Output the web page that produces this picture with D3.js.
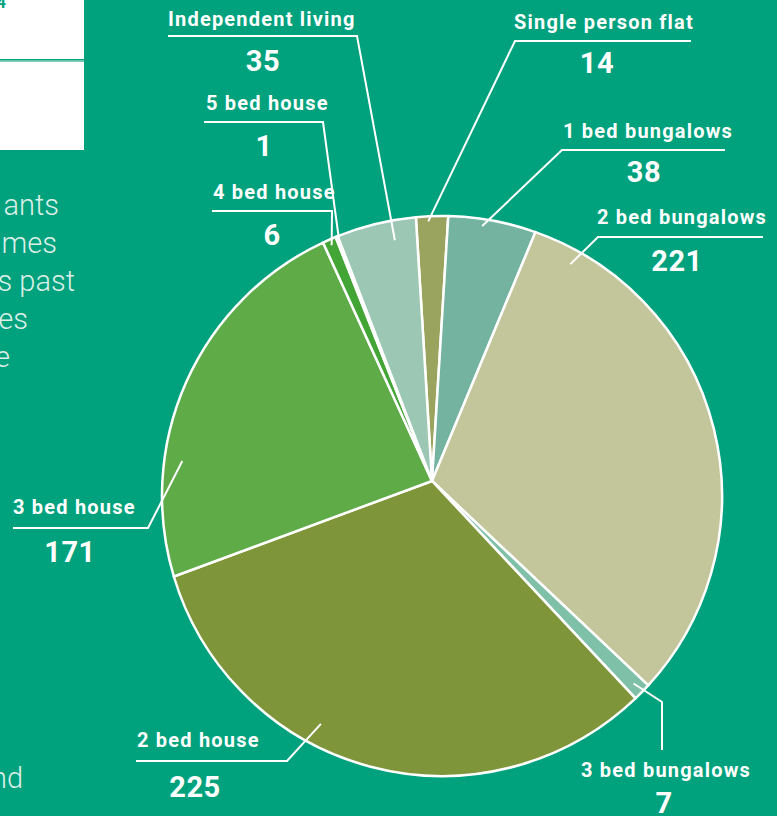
<!DOCTYPE html>
<html>
<head>
<meta charset="utf-8">
<script src="https://cdn.jsdelivr.net/npm/d3@7"></script>
<style>
  body { margin: 0; background: #00a17d; overflow: hidden; }
  svg { display: block; }
</style>
</head>
<body>
<div id="chart"></div>
<script>
// data, clockwise from the top
var categories = ["Single person flat", "1 bed bungalows", "2 bed bungalows", "3 bed bungalows",
  "2 bed house", "3 bed house", "4 bed house", "5 bed house", "Independent living"];
var values = [14, 38, 221, 7, 225, 171, 6, 1, 35];
var colors = ["#9aa45f", "#73b39f", "#c3c69b", "#7fc0a8", "#7f9539", "#5fab48", "#42a536", "#3f9e3a", "#9cc7b4"];

// cut-off paragraph on the left
var paraLines = ["ants", "mes", "s past", "es", "e"];

// label layout: text start, number centre, the leader's outer polyline,
// and where the leader enters its slice (fraction of slice angle, inset from edge)
var labelLayout = [
  { tx: 514, ty: 29, nx: 597, ny: 73, pts: [[691, 41], [515, 41]], f: 0.38, inset: 5 },
  { tx: 563, ty: 138, nx: 644, ny: 182, pts: [[725, 150], [562, 150]], f: 0.40, inset: 7 },
  { tx: 597, ty: 224, nx: 677, ny: 271, pts: [[763, 237], [598, 237]], f: 0.09, inset: 15 },
  { tx: 581, ty: 777, nx: 664, ny: 813, pts: [[662, 750], [662, 702]], f: 0.5, inset: 12 },
  { tx: 137, ty: 747, nx: 195, ny: 797, pts: [[136, 761], [287, 761]], f: 0.60, inset: 22 },
  { tx: 13, ty: 514, nx: 70, ny: 562, pts: [[13, 528], [148, 528]], f: 0.29, inset: 18 },
  { tx: 213, ty: 199, nx: 272, ny: 245, pts: [[212, 211], [332, 211]], f: 0.5, inset: 6 },
  { tx: 206, ty: 110, nx: 264, ny: 156, pts: [[204, 122], [323, 122]], f: 0.5, inset: 8 },
  { tx: 168, ty: 26, nx: 263, ny: 71, pts: [[168, 36], [357, 36]], f: 0.70, inset: 20 }
];

var W = 777, H = 816;
var apex = [432, 481];          // where the slices meet
var cx = 442, cy = 496, R = 280; // outline circle

var svg = d3.select("#chart").append("svg")
  .attr("width", W)
  .attr("height", H);

svg.append("rect").attr("width", W).attr("height", H).attr("fill", "#00a17d");

// white panel top-left
svg.append("rect").attr("x", 0).attr("y", 0).attr("width", 84).attr("height", 150).attr("fill", "#fff");
svg.append("rect").attr("x", 0).attr("y", 59).attr("width", 84).attr("height", 1.6).attr("fill", "#00a17d");
svg.append("rect").attr("x", 0).attr("y", 61).attr("width", 84).attr("height", 1).attr("fill", "#7fd0bb");
svg.append("text").attr("x", 6).attr("y", 8).attr("text-anchor", "end")
  .attr("font-family", "Roboto").attr("font-weight", 700).attr("font-size", 16)
  .attr("fill", "#00a17d").text("4");

var paraEnds = [59, 57, 75, 28, 10];
svg.selectAll("text.para").data(paraLines).enter().append("text")
  .attr("class", "para")
  .attr("x", function(d, i) { return paraEnds[i]; })
  .attr("y", function(d, i) { return 215 + i * 38; })
  .attr("text-anchor", "end")
  .attr("font-family", "Roboto").attr("font-weight", 300).attr("font-size", 29)
  .attr("fill", "#dcefe8")
  .text(function(d) { return d; });
svg.append("text").attr("x", 23).attr("y", 788).attr("text-anchor", "end")
  .attr("font-family", "Roboto").attr("font-weight", 300).attr("font-size", 29)
  .attr("fill", "#dcefe8").text("nd");

// pie angles
var startDeg = -3.5;
var pie = d3.pie().sort(null)
  .startAngle(startDeg * Math.PI / 180)
  .endAngle(startDeg * Math.PI / 180 + 2 * Math.PI);
var arcs = pie(values);

// distance from apex along a pie angle to the outline circle
function rayLen(a) {
  var dx = Math.sin(a), dy = -Math.cos(a);
  var wx = apex[0] - cx, wy = apex[1] - cy;
  var b = wx * dx + wy * dy;
  return -b + Math.sqrt(b * b - (wx * wx + wy * wy) + R * R);
}
function rayPoint(a, t) {
  return [apex[0] + t * Math.sin(a), apex[1] - t * Math.cos(a)];
}
function slicePath(d) {
  var p0 = rayPoint(d.startAngle, rayLen(d.startAngle));
  var p1 = rayPoint(d.endAngle, rayLen(d.endAngle));
  var a0 = Math.atan2(p0[1] - cy, p0[0] - cx);
  var a1 = Math.atan2(p1[1] - cy, p1[0] - cx);
  var p = d3.path();
  p.moveTo(apex[0], apex[1]);
  p.lineTo(p0[0], p0[1]);
  p.arc(cx, cy, R, a0, a1, false);
  p.closePath();
  return p.toString();
}

svg.append("g").selectAll("path").data(arcs).enter().append("path")
  .attr("d", slicePath)
  .attr("fill", function(d, i) { return colors[i]; })
  .attr("stroke", "#fff")
  .attr("stroke-width", 2.5)
  .attr("stroke-linejoin", "round");

// leaders and labels
var lab = svg.append("g");
arcs.forEach(function(d, i) {
  var L = labelLayout[i];
  var a = d.startAngle + L.f * (d.endAngle - d.startAngle);
  var inner = rayPoint(a, rayLen(a) - L.inset);
  lab.append("path")
    .attr("d", d3.line()(L.pts.concat([inner])))
    .attr("fill", "none")
    .attr("stroke", "#fff")
    .attr("stroke-width", 2);
  lab.append("text")
    .attr("x", L.tx).attr("y", L.ty)
    .attr("font-family", "Roboto").attr("font-weight", 700).attr("font-size", 20)
    .attr("letter-spacing", 1.2)
    .attr("fill", "#fff")
    .text(categories[i]);
  lab.append("text")
    .attr("x", L.nx).attr("y", L.ny)
    .attr("text-anchor", "middle")
    .attr("font-family", "Roboto").attr("font-weight", 700).attr("font-size", 29)
    .attr("letter-spacing", 0.5)
    .attr("fill", "#fff")
    .text(values[i]);
});
</script>
</body>
</html>
